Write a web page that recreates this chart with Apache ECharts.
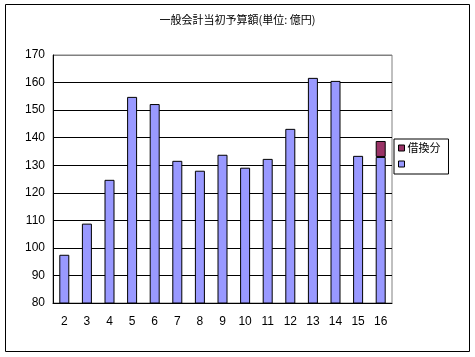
<!DOCTYPE html>
<html><head><meta charset="utf-8">
<script src="https://cdn.jsdelivr.net/npm/echarts@6/dist/echarts.min.js"></script>
<style>html,body{margin:0;padding:0;background:#fff}#c{width:475px;height:357px}</style>
</head><body><div id="c"></div>
<script>
const titleText = '一般会計当初予算額(単位: 億円)';
const categories = ['2','3','4','5','6','7','8','9','10','11','12','13','14','15','16'];
const baseValues = [97.5,108.8,124.7,154.8,152.2,131.6,128,133.8,129.1,132.3,143.2,161.7,160.6,133.4,133];
const refinanceValues = [null,null,null,null,null,null,null,null,null,null,null,null,null,null,5.8];
const yMin = 80, yMax = 170, yStep = 10;
const refinanceName = '借換分';
const baseName = ' ';

const chart = echarts.init(document.getElementById('c'), null, {renderer:'canvas'});
const fontJ = '"Noto Sans CJK JP", sans-serif';
const fontN = '"Liberation Sans", Arial, sans-serif';
const nLines = Math.round((yMax - yMin) / yStep) + 1;
const splitColors = Array.from({length:nLines}, (_, i) => i === nLines - 1 ? '#808080' : '#000');
chart.setOption({
  animation:false,
  backgroundColor:'#fff',
  title:{text:titleText,left:'center',top:9,textStyle:{fontFamily:fontJ,fontSize:11,fontWeight:'normal',color:'#000'}},
  grid:{left:53,right:83,top:55,bottom:54,show:true,borderColor:'#808080',borderWidth:1},
  legend:{orient:'vertical',left:394,top:139,width:47,itemWidth:6,itemHeight:6,itemGap:4,padding:[3,8,4,4],
    icon:'rect',borderColor:'#000',borderWidth:1,backgroundColor:'#fff',
    data:[refinanceName,baseName],
    itemStyle:{borderColor:'#000',borderWidth:1},
    textStyle:{fontFamily:fontJ,fontSize:11,color:'#000',padding:[0,0,0,-2],lineHeight:12}},
  xAxis:{type:'category',data:categories,
    axisLine:{lineStyle:{color:'#000',width:1}},
    axisTick:{inside:true,length:3,lineStyle:{color:'#000'}},
    axisLabel:{fontFamily:fontN,fontSize:12,color:'#000',margin:13}},
  yAxis:{type:'value',min:yMin,max:yMax,interval:yStep,
    axisLine:{show:true,lineStyle:{color:'#000',width:1}},
    axisTick:{show:false},
    splitLine:{lineStyle:{color:splitColors,width:1}},
    axisLabel:{fontFamily:fontN,fontSize:12,color:'#000',margin:8}},
  series:[
    {name:baseName,type:'bar',stack:'a',data:baseValues,barWidth:10,
     itemStyle:{color:'#9999ff',borderColor:'#000',borderWidth:1}},
    {name:refinanceName,type:'bar',stack:'a',data:refinanceValues,barWidth:10,
     itemStyle:{color:'#993366',borderColor:'#000',borderWidth:1}}
  ],
  graphic:[{type:'rect',shape:{x:5.5,y:4.5,width:464,height:347},style:{fill:null,stroke:'#000',lineWidth:1},silent:true}]
});
</script></body></html>
